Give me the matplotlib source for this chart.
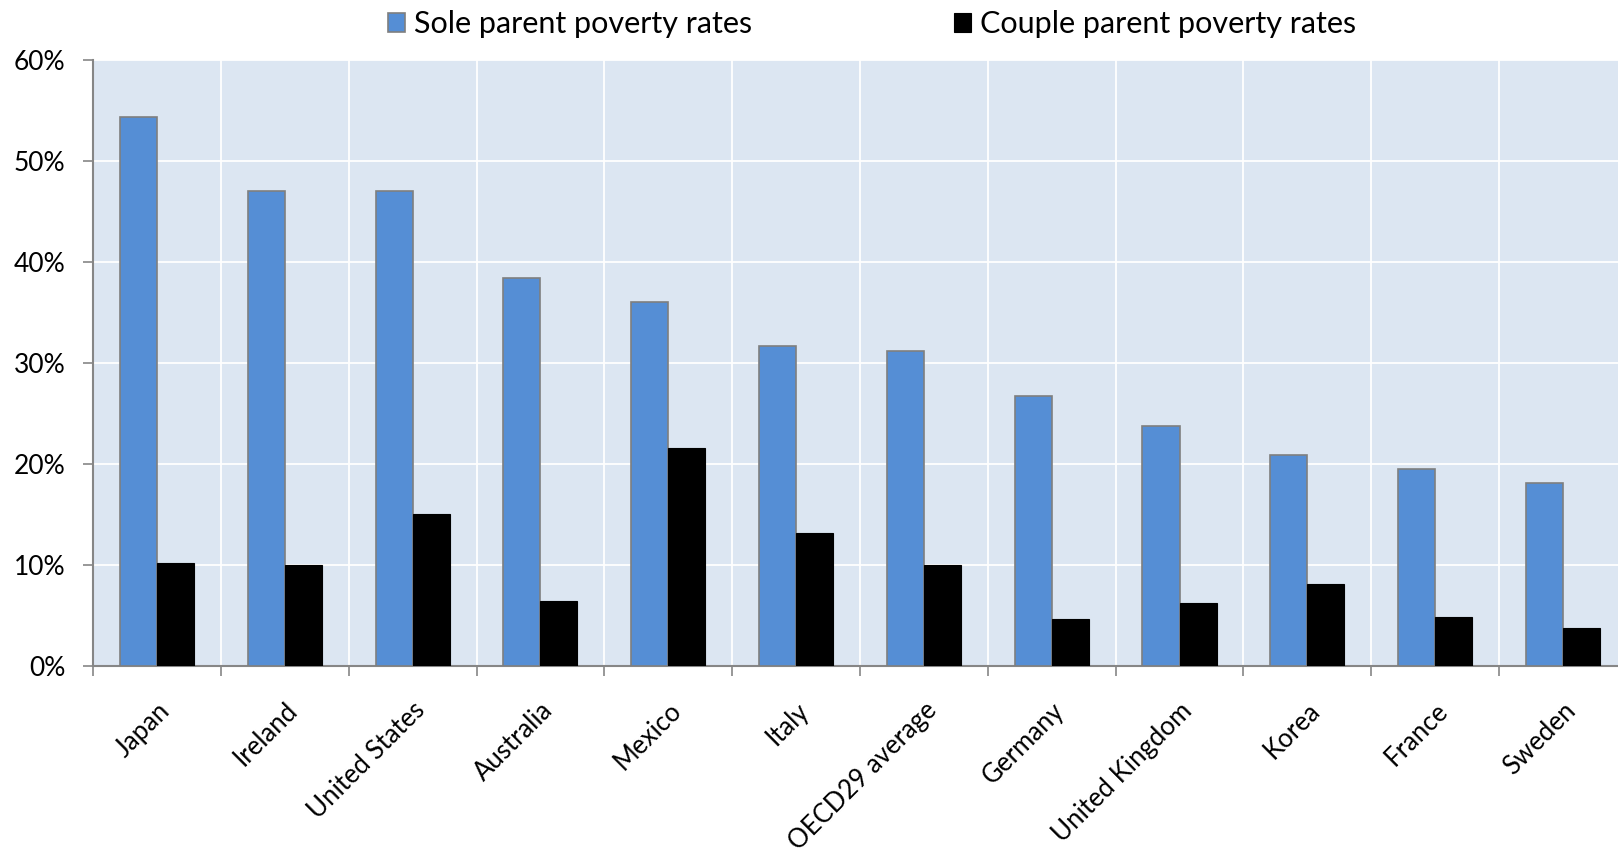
import numpy as np
import matplotlib.pyplot as plt
from matplotlib.ticker import PercentFormatter, FixedLocator

# Poverty rates by household type (%)
countries = ['Japan', 'Ireland', 'United States', 'Australia', 'Mexico', 'Italy',
             'OECD29 average', 'Germany', 'United Kingdom', 'Korea', 'France', 'Sweden']
sole_parent = [54.4, 47.0, 47.0, 38.4, 36.0, 31.7, 31.2, 26.7, 23.8, 20.9, 19.5, 18.1]
couple_parent = [10.2, 10.0, 15.0, 6.4, 21.6, 13.2, 10.0, 4.6, 6.2, 8.1, 4.8, 3.8]

plt.rcParams['font.family'] = ['Lato', 'DejaVu Sans']

fig = plt.figure(figsize=(16.18, 8.57), dpi=100)
ax = fig.add_axes([0.0575, 0.223, 0.948, 0.707])

x = np.arange(len(countries))
w = 0.29
ax.bar(x - w / 2, sole_parent, w, color='#558ED5', edgecolor='#7F7F7F', linewidth=1.2,
       label='Sole parent poverty rates', zorder=3)
ax.bar(x + w / 2, couple_parent, w, color='black', edgecolor='black', linewidth=0.8,
       label='Couple parent poverty rates', zorder=3)

ax.set_facecolor('#DCE6F2')
ax.set_xlim(-0.5, len(countries) - 0.5)
ax.set_ylim(0, 60)
ax.set_yticks(np.arange(0, 61, 10))
ax.yaxis.set_major_formatter(PercentFormatter(decimals=0))

ax.set_xticks(x)
ax.set_xticklabels(countries, rotation=45, ha='right', rotation_mode='anchor', fontsize=18.5)
ax.xaxis.set_minor_locator(FixedLocator(np.arange(-0.5, len(countries), 1.0)))
ax.tick_params(axis='x', which='major', length=0, pad=23)
ax.tick_params(axis='x', which='minor', length=7, color='#868686', width=1.2)
ax.tick_params(axis='y', length=7, color='#868686', width=1.2, labelsize=19, pad=13)

ax.grid(True, axis='y', color='white', linewidth=1.3, zorder=0)
ax.grid(True, axis='x', which='minor', color='white', linewidth=1.3, zorder=0)
ax.set_axisbelow(True)

for side in ['top', 'right']:
    ax.spines[side].set_visible(False)
for side in ['left', 'bottom']:
    ax.spines[side].set_color('#868686')
    ax.spines[side].set_linewidth(1.5)

fig.legend(loc='upper center', bbox_to_anchor=(0.539, 1.02), ncol=2, frameon=False,
           fontsize=22, handlelength=0.55, handleheight=0.55, handletextpad=0.3,
           columnspacing=6.6)

fig.savefig('out.png', dpi=100)
